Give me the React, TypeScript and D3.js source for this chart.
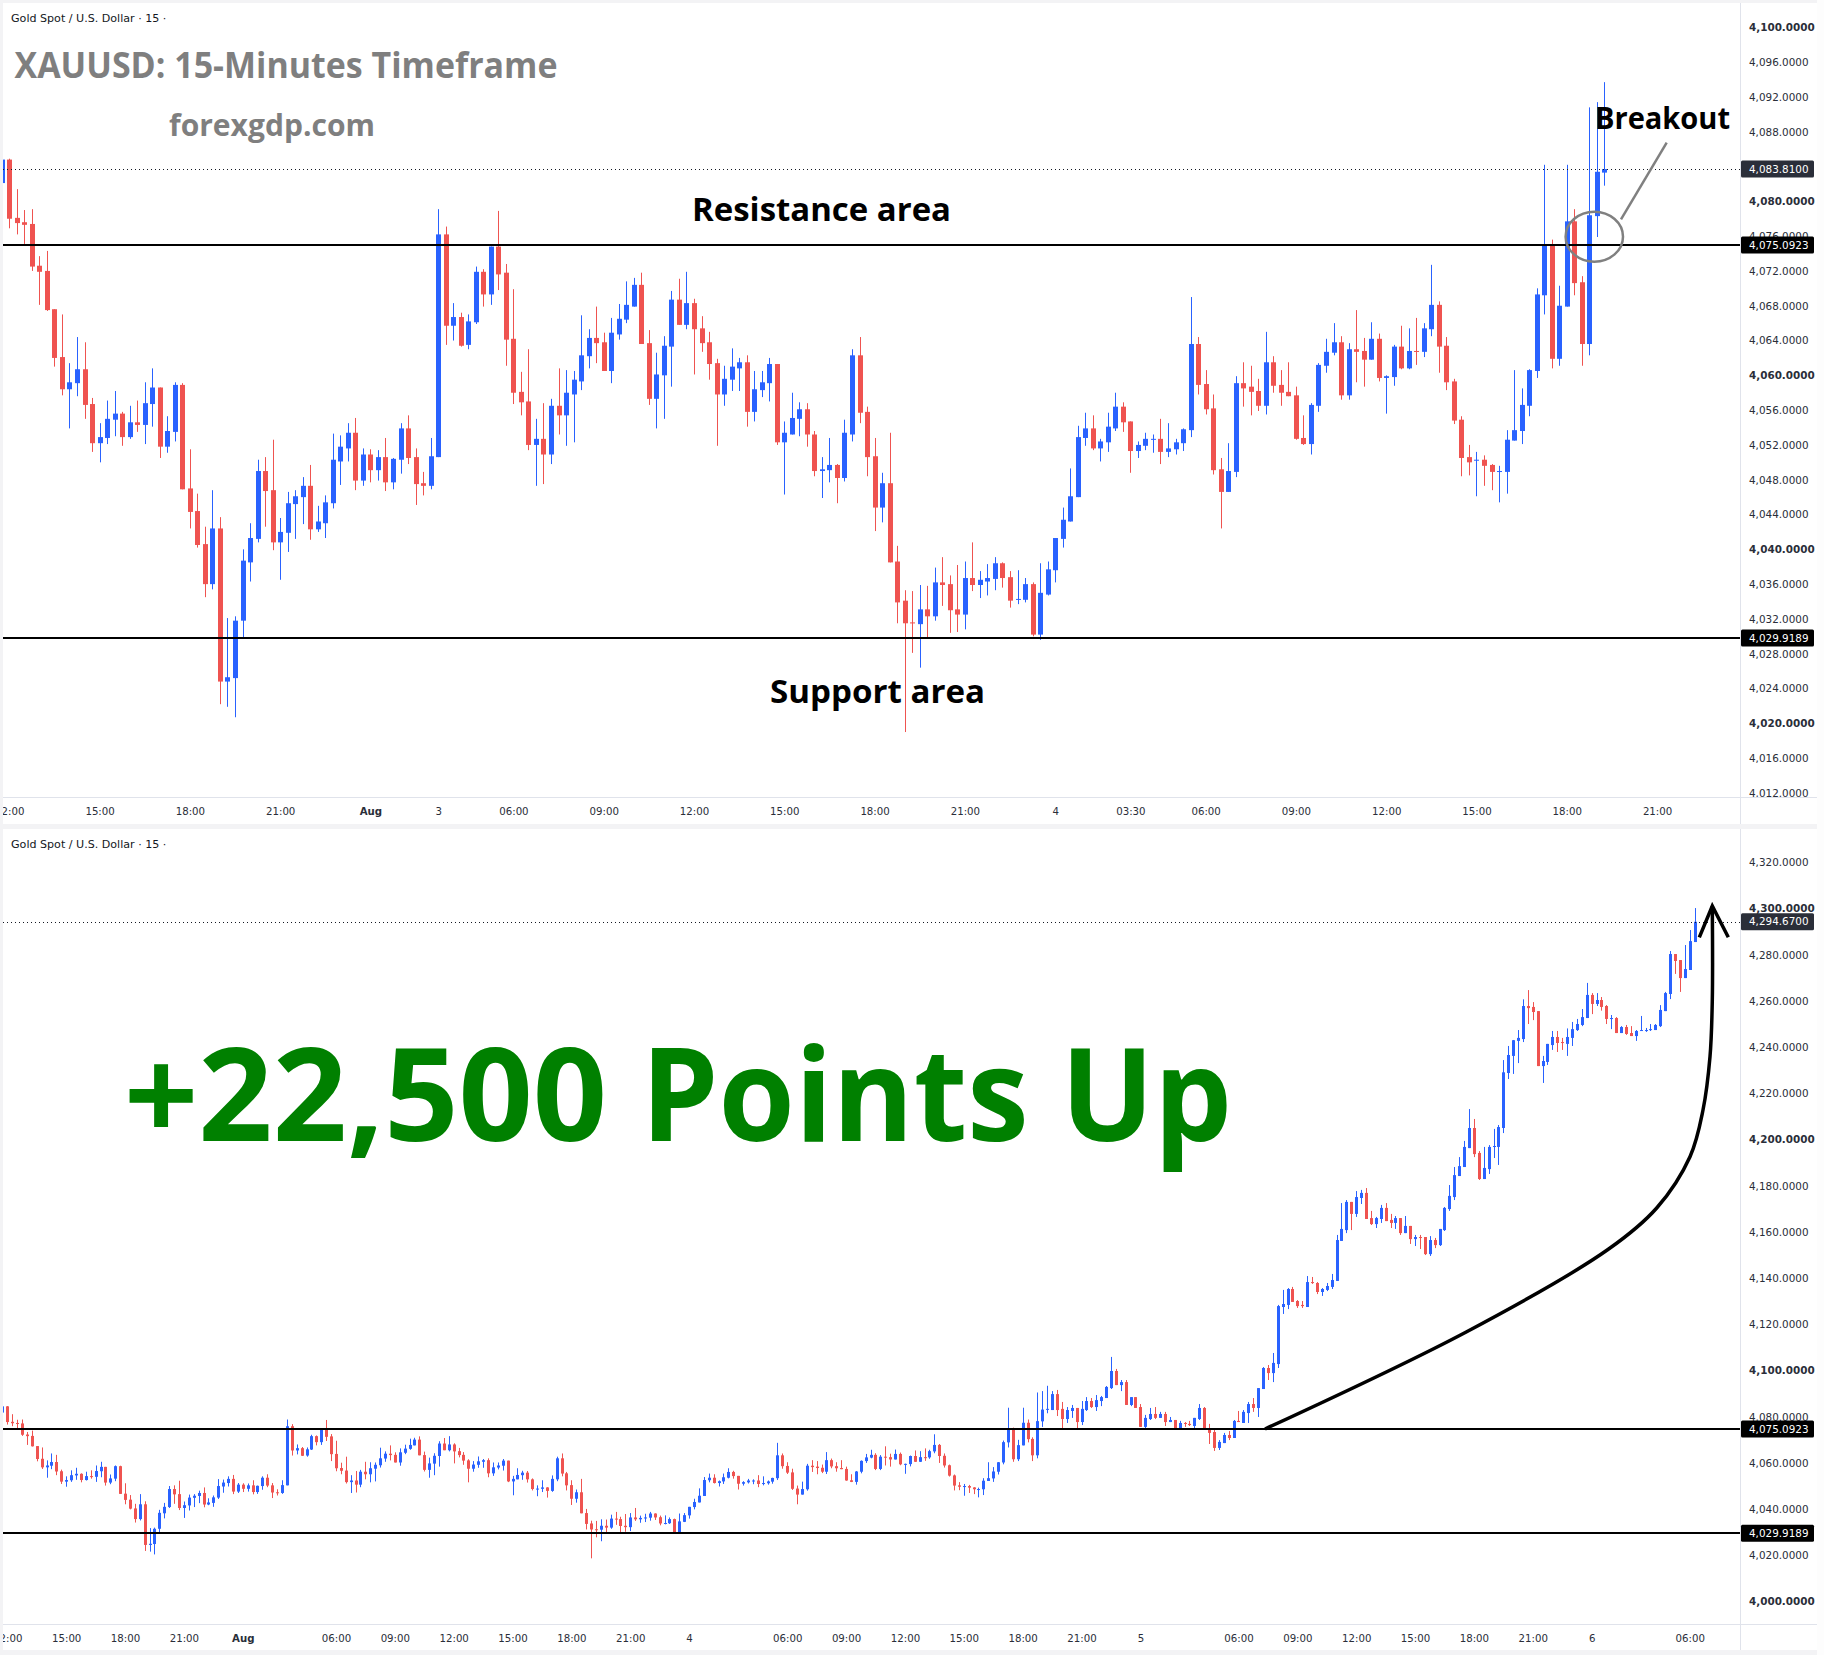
import * as d3 from 'd3';
import { useEffect, useRef } from 'react';

// candles shared by both panels, the first one is cut by the left edge
const opens = [4082.2,
  4084.9,4078.2,4077.7,4077.5,4072.7,4072.1,4067.7,4062.2,4058.5,4059.2,
  4060.8,4056.8,4052.3,4052.9,4055.0,4055.7,4053.0,4054.7,4054.4,4056.8,
  4058.7,4051.9,4053.6,4059.0,4047.1,4044.5,4040.7,4036.1,4042.5,4024.9,
  4025.3,4031.9,4038.6,4041.3,4049.1,4046.9,4040.9,4042.0,4045.3,4046.1,
  4047.4,4042.4,4043.1,4045.4,4050.2,4051.7,4053.5,4048.0,4051.0,4049.2,
  4050.7,4047.8,4050.4,4054.0,4050.7,4047.7,4047.4,4050.7,4076.3,4065.8,
  4066.8,4063.6,4066.2,4072.0,4069.4,4074.9,4071.9,4064.3,4058.2,4057.1,
  4052.1,4052.8,4051.0,4056.6,4055.5,4057.9,4059.4,4062.3,4064.4,4063.9,
  4060.6,4064.8,4066.5,4068.0,4070.5,4063.8,4057.4,4060.1,4063.4,4068.8,
  4065.9,4068.4,4065.5,4063.9,4061.5,4057.9,4059.6,4060.9,4061.6,4055.9,
  4058.4,4059.2,4061.4,4052.4,4053.3,4055.1,4056.2,4053.3,4049.1,4049.2,
  4049.8,4048.3,4053.3,4062.4,4055.9,4050.8,4044.9,4047.7,4038.7,4034.2,
  4031.7,4031.5,4033.2,4032.4,4036.3,4036.1,4033.2,4032.6,4036.8,4036.0,
  4036.4,4036.7,4038.5,4036.9,4034.3,4034.3,4036.1,4030.3,4034.9,4037.7,
  4041.3,4043.3,4046.1,4052.9,4054.0,4051.7,4052.4,4054.0,4056.5,4054.8,
  4051.4,4052.0,4052.7,4052.8,4051.3,4051.6,4052.3,4053.8,4063.7,4059.1,
  4056.3,4049.3,4046.7,4049.0,4059.2,4058.8,4058.3,4056.6,4061.6,4059.0,
  4058.2,4057.8,4052.9,4052.2,4056.6,4061.2,4062.7,4063.9,4057.8,4063.1,
  4062.9,4061.9,4064.3,4059.8,4059.9,4063.4,4060.9,4062.9,4062.8,4065.4,
  4068.2,4063.5,4059.4,4055.0,4050.7,4050.3,4050.4,4049.8,4049.0,4049.0,
  4052.6,4053.7,4056.6,4060.6,4069.3,4075.1,4062.0,4068.0,4077.8,4070.8,
  4063.7,4078.4,4083.4];
const highs = [4084.9,
  4085.0,4081.5,4079.1,4079.2,4073.8,4074.4,4067.7,4067.1,4061.5,4064.5,
  4063.9,4057.5,4054.6,4057.2,4058.3,4055.9,4056.6,4057.2,4059.3,4060.9,
  4058.7,4055.4,4059.3,4059.2,4051.6,4046.5,4042.7,4046.9,4043.8,4032.2,
  4032.4,4040.1,4043.1,4050.4,4050.7,4052.7,4043.7,4046.7,4046.9,4048.4,
  4049.8,4045.1,4046.3,4053.4,4053.2,4054.6,4055.2,4051.7,4051.6,4051.5,
  4052.9,4050.6,4054.6,4055.5,4051.7,4049.0,4052.9,4079.2,4077.2,4068.4,
  4067.3,4067.1,4072.6,4072.3,4074.9,4079.0,4072.9,4070.0,4060.5,4063.1,
  4055.1,4056.9,4057.4,4060.9,4060.7,4060.6,4067.0,4065.4,4068.0,4065.0,
  4066.7,4068.3,4070.9,4071.3,4071.9,4065.3,4062.7,4064.6,4069.8,4071.2,
  4072.0,4068.9,4066.9,4065.1,4062.0,4061.2,4063.2,4062.1,4062.4,4060.6,
  4060.6,4062.1,4061.4,4054.8,4058.1,4057.0,4056.9,4053.7,4050.7,4052.9,
  4049.9,4055.0,4063.1,4064.5,4056.5,4052.9,4048.9,4053.5,4040.5,4035.4,
  4035.3,4036.0,4035.9,4038.0,4039.2,4037.1,4038.3,4038.7,4040.9,4037.6,
  4038.4,4039.2,4038.6,4037.6,4037.7,4036.8,4036.3,4038.5,4038.7,4041.4,
  4044.9,4049.4,4054.3,4055.8,4055.5,4052.8,4055.8,4058.1,4057.0,4054.8,
  4052.5,4053.5,4053.3,4055.1,4054.6,4052.8,4054.0,4069.1,4064.5,4060.7,
  4057.9,4050.6,4052.3,4060.0,4061.6,4061.2,4059.7,4065.1,4062.3,4060.7,
  4061.6,4058.8,4055.5,4056.9,4061.5,4064.3,4066.1,4064.6,4063.8,4067.6,
  4064.4,4066.2,4064.9,4060.1,4063.6,4065.8,4065.5,4066.7,4066.1,4072.8,
  4068.6,4064.5,4059.7,4055.4,4052.1,4051.3,4050.9,4049.9,4049.7,4053.8,
  4060.7,4058.6,4060.8,4070.1,4084.3,4075.7,4070.4,4084.3,4079.2,4071.5,
  4090.9,4091.5,4093.8];
const lows = [4082.2,
  4077.0,4076.3,4075.2,4072.1,4068.2,4067.5,4061.1,4057.8,4054.0,4057.7,
  4055.1,4051.3,4050.1,4052.2,4053.1,4052.0,4052.8,4053.6,4052.2,4054.2,
  4050.6,4051.2,4052.5,4047.0,4042.5,4040.3,4034.6,4035.5,4022.3,4022.0,
  4020.8,4029.8,4036.4,4040.9,4042.7,4040.0,4036.6,4039.8,4041.3,4043.0,
  4041.2,4042.1,4041.4,4044.8,4047.5,4050.2,4046.9,4047.4,4047.8,4048.0,
  4046.8,4047.0,4048.8,4049.9,4045.2,4046.3,4047.0,4050.7,4063.6,4064.1,
  4063.4,4063.1,4066.0,4068.0,4068.2,4069.9,4061.2,4056.8,4055.5,4051.5,
  4047.4,4047.6,4049.9,4053.3,4052.0,4052.4,4058.4,4060.9,4061.5,4060.6,
  4059.2,4064.2,4066.1,4068.0,4063.7,4056.7,4054.0,4055.1,4058.8,4065.9,
  4065.4,4060.2,4062.8,4059.6,4052.0,4056.6,4058.3,4058.3,4054.2,4054.8,
  4057.6,4057.1,4052.1,4046.4,4053.3,4053.1,4051.9,4048.5,4046.0,4047.8,
  4045.4,4047.9,4052.5,4054.6,4048.5,4042.2,4043.2,4038.6,4031.6,4019.1,
  4028.2,4026.5,4029.8,4031.9,4033.6,4030.5,4030.6,4030.9,4035.3,4034.5,
  4034.8,4035.4,4035.7,4033.4,4033.8,4034.0,4030.1,4029.7,4034.8,4036.3,
  4040.3,4043.3,4046.1,4052.0,4051.5,4050.2,4051.3,4053.7,4053.6,4048.9,
  4050.6,4051.5,4051.2,4049.9,4050.7,4051.0,4051.4,4053.0,4057.9,4055.6,
  4048.7,4042.5,4046.7,4048.4,4056.5,4055.5,4056.0,4055.6,4058.1,4056.6,
  4057.7,4052.7,4052.1,4051.0,4055.9,4060.4,4062.4,4057.3,4057.3,4059.3,
  4058.8,4061.9,4059.4,4055.7,4058.9,4060.8,4060.8,4061.3,4062.2,4064.6,
  4060.4,4058.4,4054.5,4048.5,4048.6,4046.2,4047.4,4046.9,4045.5,4046.5,
  4052.6,4052.2,4055.4,4059.8,4067.1,4060.9,4061.2,4068.0,4069.3,4061.2,
  4062.4,4076.0,4081.9];
const closes = [4084.9,
  4078.1,4077.6,4077.4,4072.6,4072.0,4067.6,4062.1,4058.5,4059.3,4060.8,
  4056.7,4052.3,4053.0,4055.1,4055.7,4053.0,4054.7,4054.4,4056.9,4058.7,
  4051.9,4053.7,4059.0,4047.0,4044.4,4040.6,4036.1,4042.5,4024.9,4025.4,
  4031.9,4038.8,4041.4,4049.1,4046.8,4040.9,4042.1,4045.4,4046.2,4047.4,
  4042.4,4043.3,4045.5,4050.4,4051.9,4053.5,4048.0,4051.0,4049.2,4050.7,
  4047.8,4050.5,4054.0,4050.6,4047.6,4047.4,4050.8,4076.3,4065.8,4066.8,
  4063.5,4066.3,4072.0,4069.4,4074.9,4071.7,4064.2,4058.1,4057.0,4052.1,
  4052.8,4051.0,4056.6,4055.5,4058.1,4059.6,4062.4,4064.4,4063.8,4060.6,
  4065.0,4066.6,4068.2,4070.5,4063.7,4057.4,4060.2,4063.5,4068.8,4065.9,
  4068.4,4065.4,4063.8,4061.4,4057.9,4059.7,4061.1,4061.6,4055.9,4058.5,
  4059.3,4061.4,4052.4,4053.5,4055.2,4056.2,4053.3,4049.1,4049.3,4049.8,
  4048.3,4053.5,4062.4,4055.8,4050.7,4044.9,4047.7,4038.6,4034.0,4031.6,
  4031.6,4033.2,4032.4,4036.3,4036.0,4033.1,4032.6,4036.8,4036.0,4036.6,
  4036.8,4038.5,4036.8,4034.2,4034.4,4036.1,4030.3,4035.1,4037.8,4041.4,
  4043.5,4046.2,4053.0,4054.0,4051.7,4052.5,4054.2,4056.5,4054.7,4051.4,
  4052.1,4052.8,4052.8,4051.3,4051.7,4052.4,4053.9,4063.7,4059.0,4056.2,
  4049.2,4046.7,4049.1,4059.2,4058.6,4058.2,4056.6,4061.6,4058.9,4058.1,
  4057.7,4052.8,4052.2,4056.7,4061.3,4062.8,4063.9,4057.8,4063.1,4062.8,
  4061.9,4064.3,4059.8,4060.0,4063.4,4060.9,4062.9,4062.8,4065.5,4068.2,
  4063.4,4059.3,4054.9,4050.6,4050.1,4050.4,4049.7,4049.0,4049.1,4052.7,
  4053.8,4056.7,4060.7,4069.4,4075.1,4062.0,4068.1,4077.8,4070.7,4063.7,
  4078.5,4083.5,4083.81];

// candles that only the lower panel shows
const laterOpens = [
  4083.3,4090.2,4083.8,4079.4,4082.9,4084.2,4078.1,4083.3,4087.2,4084.6,
  4087.2,4088.5,4092.8,4100.2,4094.1,4095.4,4085.5,4088.9,4084.6,4076.0,
  4079.4,4081.6,4079.9,4081.6,4078.1,4079.0,4075.1,4077.7,4077.3,4076.4,
  4079.4,4084.2,4075.5,4073.8,4066.9,4069.0,4072.5,4071.2,4078.6,4077.7,
  4082.0,4085.9,4084.2,4092.4,4101.5,4099.3,4103.2,4127.9,4128.8,4135.7,
  4130.5,4128.8,4127.9,4138.7,4138.3,4134.4,4135.3,4136.6,4139.2,4156.5,
  4161.2,4173.4,4168.2,4175.1,4177.3,4166.4,4163.8,4166.0,4170.8,4165.6,
  4164.3,4166.4,4159.9,4163.0,4157.3,4158.2,4158.2,4150.8,4156.9,4154.7,
  4161.2,4170.3,4175.5,4184.6,4188.5,4196.7,4205.4,4194.6,4183.3,4187.6,
  4197.2,4197.2,4205.4,4229.2,4236.6,4243.1,4243.9,4258.2,4257.8,4256.0,
  4232.2,4234.0,4241.3,4244.8,4242.6,4241.8,4244.4,4247.8,4250.0,4253.0,
  4263.0,4259.1,4260.8,4258.2,4252.6,4253.0,4246.5,4249.1,4246.5,4245.2,
  4247.4,4247.4,4247.8,4247.8,4249.5,4256.0,4263.4,4280.7,4278.1,4270.3,
  4273.8,4285.9];
const laterHighs = [
  4091.5,4092.0,4086.8,4084.6,4085.5,4084.2,4087.2,4088.9,4088.5,4089.8,
  4089.4,4093.7,4106.3,4101.1,4096.3,4096.3,4088.9,4088.9,4085.9,4081.2,
  4084.2,4084.6,4082.5,4082.5,4080.3,4079.0,4078.6,4078.1,4078.6,4079.9,
  4085.9,4084.6,4077.3,4074.7,4070.3,4073.4,4074.2,4079.0,4082.9,4083.3,
  4086.8,4088.5,4092.8,4101.9,4102.8,4108.0,4128.8,4135.3,4136.1,4136.6,
  4130.9,4130.5,4141.3,4140.9,4138.7,4136.1,4138.3,4142.2,4159.1,4172.9,
  4174.2,4173.4,4178.1,4178.6,4179.4,4169.5,4166.9,4172.1,4172.9,4168.2,
  4167.3,4166.4,4167.3,4163.0,4159.1,4159.1,4158.2,4158.6,4157.8,4161.7,
  4171.2,4180.7,4188.5,4192.8,4199.8,4213.6,4209.3,4195.4,4197.2,4198.0,
  4205.0,4206.7,4234.8,4240.9,4243.5,4247.8,4261.1,4265.1,4259.9,4256.0,
  4236.6,4241.8,4247.4,4247.4,4244.4,4248.5,4251.3,4252.6,4256.9,4268.2,
  4263.8,4263.8,4262.1,4258.6,4254.3,4253.4,4249.5,4250.0,4249.5,4247.8,
  4253.9,4248.7,4250.4,4250.4,4258.6,4264.3,4282.0,4280.7,4278.1,4284.6,
  4291.1,4300.6];
const laterLows = [
  4083.3,4080.7,4074.7,4077.7,4079.9,4075.1,4076.8,4082.9,4084.2,4082.9,
  4085.0,4088.5,4092.4,4094.1,4091.5,4085.5,4085.0,4084.2,4076.0,4075.1,
  4079.0,4079.4,4079.9,4076.4,4078.1,4074.7,4075.1,4076.0,4076.4,4075.5,
  4079.0,4075.1,4068.6,4065.6,4066.0,4069.0,4070.3,4071.2,4078.1,4077.7,
  4077.7,4082.5,4080.3,4092.4,4096.3,4095.4,4101.5,4124.9,4127.0,4130.1,
  4127.5,4127.5,4127.9,4137.9,4133.5,4132.7,4134.8,4135.7,4139.2,4156.5,
  4159.9,4161.2,4166.9,4172.5,4166.0,4163.4,4162.1,4164.3,4165.1,4162.1,
  4161.7,4159.1,4159.9,4155.2,4154.3,4153.0,4150.4,4150.0,4153.4,4154.3,
  4160.8,4169.5,4174.2,4184.6,4188.5,4196.7,4192.8,4182.9,4183.3,4185.5,
  4192.4,4189.4,4203.2,4226.6,4228.8,4233.5,4242.6,4250.4,4252.1,4232.2,
  4224.9,4232.7,4239.2,4238.3,4239.2,4236.6,4240.9,4247.4,4249.5,4253.0,
  4254.7,4258.2,4256.2,4250.4,4248.2,4246.5,4246.5,4245.7,4245.2,4243.1,
  4247.4,4247.0,4247.4,4247.8,4249.1,4256.0,4261.2,4272.1,4264.3,4270.3,
  4273.8,4285.9];
const laterCloses = [
  4090.2,4083.3,4079.4,4083.3,4084.2,4078.1,4083.8,4087.2,4084.6,4087.6,
  4088.9,4093.3,4100.2,4094.1,4095.4,4085.5,4088.9,4084.2,4076.0,4079.9,
  4081.6,4079.9,4081.6,4078.1,4079.0,4075.1,4077.7,4077.3,4076.8,4079.9,
  4084.2,4075.1,4073.4,4066.9,4069.5,4072.5,4071.2,4078.6,4078.1,4082.5,
  4085.9,4084.2,4092.8,4101.5,4099.3,4103.7,4128.3,4129.2,4135.7,4130.1,
  4128.3,4128.3,4138.7,4138.3,4134.4,4135.7,4137.0,4139.6,4156.9,4161.7,
  4173.4,4168.2,4175.5,4177.3,4166.0,4163.8,4166.4,4170.8,4165.1,4164.3,
  4166.4,4159.9,4163.0,4157.3,4158.2,4157.8,4150.8,4156.9,4154.7,4161.7,
  4170.8,4176.0,4185.0,4188.9,4197.2,4205.4,4194.1,4183.3,4188.1,4197.2,
  4197.6,4205.8,4229.5,4237.0,4243.4,4244.4,4258.2,4257.3,4255.6,4232.2,
  4234.4,4241.8,4244.8,4242.2,4242.2,4244.8,4248.2,4250.4,4253.4,4263.0,
  4259.1,4260.8,4257.8,4252.6,4253.0,4246.5,4249.1,4246.1,4245.2,4247.4,
  4247.8,4247.8,4248.2,4250.0,4256.5,4263.8,4280.7,4277.7,4270.3,4274.2,
  4286.3,4294.67];

const resistance = 4075.0923;
const support = 4029.9189;
const topLast = 4083.81;
const bottomLast = 4294.67;

const topTimeLabels = ['12:00','15:00','18:00','21:00','Aug','3','06:00','09:00','12:00','15:00','18:00','21:00','4','03:30','06:00','09:00','12:00','15:00','18:00','21:00'];
const topTimeSlots = [1,13,25,37,49,58,68,80,92,104,116,128,140,150,160,172,184,196,208,220];
const bottomTimeLabels = ['12:00','15:00','18:00','21:00','Aug','06:00','09:00','12:00','15:00','18:00','21:00','4','06:00','09:00','12:00','15:00','18:00','21:00','5','06:00','09:00','12:00','15:00','18:00','21:00','6','06:00'];
const bottomTimeSlots = [1,13,25,37,49,68,80,92,104,116,128,140,160,172,184,196,208,220,232,252,264,276,288,300,312,324,344];

const UP = '#2962ff';
const DOWN = '#ef5350';
const GRID = '#e0e3eb';
const TICK_FONT = '"DejaVu Sans", sans-serif';
const NOTE_FONT = '"Open Sans", sans-serif';

type Candle = { i: number; o: number; h: number; l: number; c: number };

type PanelConfig = {
  id: string;
  candles: Candle[];
  x0: number;
  step: number;
  bodyWidth: number;
  slotValues: number[];
  slotLabels: string[];
  axisY: number;
  priceTop: number;
  pricesPerPx: number;
  priceTicks: number[];
  boldEvery: number;
  headerY: number;
  panelTop: number;
  panelBottom: number;
  lastPrice: number;
};

const toCandles = (o: number[], h: number[], l: number[], c: number[]): Candle[] =>
  o.map((v, i) => ({ i, o: v, h: h[i], l: l[i], c: c[i] }));

const sharedCandles = toCandles(opens, highs, lows, closes);
const allCandles = toCandles(
  opens.concat(laterOpens),
  highs.concat(laterHighs),
  lows.concat(laterLows),
  closes.concat(laterCloses),
);

const drawPanel = (svg: any, cfg: PanelConfig) => {
  const x = d3.scaleLinear().domain([0, 1]).range([cfg.x0, cfg.x0 + cfg.step]);
  const y = d3
    .scaleLinear()
    .domain([resistance, resistance - 100])
    .range([cfg.priceTop, cfg.priceTop + 100 * cfg.pricesPerPx]);

  svg
    .append('clipPath')
    .attr('id', `plot-${cfg.id}`)
    .append('rect')
    .attr('x', 3)
    .attr('y', cfg.panelTop)
    .attr('width', 1737)
    .attr('height', cfg.axisY - 16 - cfg.panelTop);
  svg
    .append('clipPath')
    .attr('id', `time-${cfg.id}`)
    .append('rect')
    .attr('x', 3)
    .attr('y', cfg.axisY - 16)
    .attr('width', 1737)
    .attr('height', 30);

  const plot = svg.append('g').attr('clip-path', `url(#plot-${cfg.id})`);
  const colour = (d: Candle) => (d.c >= d.o ? UP : DOWN);

  plot
    .selectAll('.wick')
    .data(cfg.candles)
    .join('line')
    .attr('class', 'wick')
    .attr('x1', (d: Candle) => Math.round(x(d.i)) + 0.5)
    .attr('x2', (d: Candle) => Math.round(x(d.i)) + 0.5)
    .attr('y1', (d: Candle) => y(d.h))
    .attr('y2', (d: Candle) => y(d.l))
    .attr('stroke', colour)
    .attr('stroke-width', 1);

  plot
    .selectAll('.body')
    .data(cfg.candles)
    .join('rect')
    .attr('class', 'body')
    .attr('x', (d: Candle) => Math.round(x(d.i)) + 0.5 - cfg.bodyWidth / 2)
    .attr('y', (d: Candle) => y(Math.max(d.o, d.c)))
    .attr('width', cfg.bodyWidth)
    .attr('height', (d: Candle) => Math.max(1, Math.abs(y(d.o) - y(d.c))))
    .attr('fill', colour);

  // last price dots, then the two drawn levels above the candles
  plot
    .append('line')
    .attr('x1', 3)
    .attr('x2', 1740)
    .attr('y1', Math.round(y(cfg.lastPrice)) + 0.5)
    .attr('y2', Math.round(y(cfg.lastPrice)) + 0.5)
    .attr('stroke', '#131722')
    .attr('stroke-width', 1)
    .attr('stroke-dasharray', '1 3');
  [resistance, support].forEach((level) => {
    plot
      .append('line')
      .attr('x1', 3)
      .attr('x2', 1740)
      .attr('y1', Math.round(y(level)))
      .attr('y2', Math.round(y(level)))
      .attr('stroke', '#000')
      .attr('stroke-width', 2);
  });

  const priceAxis = svg
    .append('g')
    .attr('transform', 'translate(1749,-0.8)')
    .call(
      d3
        .axisRight(y)
        .tickValues(cfg.priceTicks)
        .tickFormat(d3.format(',.4f') as any)
        .tickSize(0)
        .tickPadding(0),
    );
  priceAxis.select('.domain').remove();
  priceAxis
    .selectAll('text')
    .attr('font-family', TICK_FONT)
    .attr('font-size', 10.4)
    .attr('fill', '#2a2e39')
    .attr('font-weight', (d: number) => (d % cfg.boldEvery === 0 ? 'bold' : 'normal'));

  const timeAxis = svg
    .append('g')
    .attr('clip-path', `url(#time-${cfg.id})`)
    .append('g')
    .attr('transform', `translate(0,${cfg.axisY - 2})`)
    .call(
      d3
        .axisBottom(x)
        .tickValues(cfg.slotValues)
        .tickFormat((_d: any, i: number) => cfg.slotLabels[i])
        .tickSize(0)
        .tickPadding(0),
    );
  timeAxis.select('.domain').remove();
  timeAxis
    .selectAll('text')
    .attr('y', 0)
    .attr('dy', '0.35em')
    .attr('font-family', TICK_FONT)
    .attr('font-size', 10.2)
    .attr('fill', '#2a2e39')
    .attr('font-weight', (_d: number, i: number) =>
      cfg.slotLabels[i] === 'Aug' ? 'bold' : 'normal',
    );

  // panel frame
  svg
    .append('line')
    .attr('x1', 1740.5)
    .attr('x2', 1740.5)
    .attr('y1', cfg.panelTop)
    .attr('y2', cfg.panelBottom)
    .attr('stroke', GRID);
  svg
    .append('line')
    .attr('x1', 3)
    .attr('x2', 1817)
    .attr('y1', cfg.axisY - 15.5)
    .attr('y2', cfg.axisY - 15.5)
    .attr('stroke', GRID);

  svg
    .append('text')
    .attr('x', 11)
    .attr('y', cfg.headerY)
    .attr('font-family', TICK_FONT)
    .attr('font-size', 11.1)
    .attr('fill', '#131722')
    .text('Gold Spot / U.S. Dollar · 15 ·');

  const priceTags = [
    { v: resistance, fill: '#000' },
    { v: support, fill: '#000' },
    { v: cfg.lastPrice, fill: '#2a2e39' },
  ];
  priceTags.forEach((tag) => {
    svg
      .append('rect')
      .attr('x', 1741)
      .attr('y', y(tag.v) - 8.5)
      .attr('width', 73)
      .attr('height', 17)
      .attr('rx', 1.5)
      .attr('fill', tag.fill);
    svg
      .append('text')
      .attr('x', 1749)
      .attr('y', y(tag.v))
      .attr('dy', '0.35em')
      .attr('font-family', TICK_FONT)
      .attr('font-size', 10.4)
      .attr('fill', '#fff')
      .text(d3.format(',.4f')(tag.v));
  });
};

const addNote = (
  svg: any,
  text: string,
  px: number,
  py: number,
  size: number,
  span: number,
  fill: string,
) => {
  svg
    .append('text')
    .attr('x', px)
    .attr('y', py)
    .attr('font-family', NOTE_FONT)
    .attr('font-weight', 'bold')
    .attr('font-size', size)
    .attr('textLength', span)
    .attr('lengthAdjust', 'spacingAndGlyphs')
    .attr('fill', fill)
    .text(text);
};

export default function App() {
  const ref = useRef<SVGSVGElement | null>(null);

  useEffect(() => {
    const svg = d3.select(ref.current);
    svg.selectAll('*').remove();

    svg.append('rect').attr('width', 1824).attr('height', 1655).attr('fill', '#f3f3f5');
    svg.append('rect').attr('x', 3).attr('y', 3).attr('width', 1814).attr('height', 821).attr('fill', '#fff');
    svg.append('rect').attr('x', 3).attr('y', 829).attr('width', 1814).attr('height', 821).attr('fill', '#fff');
    svg.append('rect').attr('x', 1817).attr('y', 0).attr('width', 7).attr('height', 1655).attr('fill', '#fdfdfd');

    drawPanel(svg, {
      id: 'top',
      candles: sharedCandles,
      x0: 1.77,
      step: 7.524,
      bodyWidth: 5,
      slotValues: topTimeSlots,
      slotLabels: topTimeLabels,
      axisY: 813,
      priceTop: 244.9,
      pricesPerPx: 8.7,
      priceTicks: d3.range(4012, 4101, 4),
      boldEvery: 20,
      headerY: 22,
      panelTop: 3,
      panelBottom: 824,
      lastPrice: topLast,
    });
    drawPanel(svg, {
      id: 'bottom',
      candles: allCandles,
      x0: 2.4,
      step: 4.905,
      bodyWidth: 3,
      slotValues: bottomTimeSlots,
      slotLabels: bottomTimeLabels,
      axisY: 1640,
      priceTop: 1429,
      pricesPerPx: 2.31,
      priceTicks: d3.range(4000, 4321, 20),
      boldEvery: 100,
      headerY: 848,
      panelTop: 829,
      panelBottom: 1650,
      lastPrice: bottomLast,
    });

    addNote(svg, 'XAUUSD: 15-Minutes Timeframe', 14.5, 78, 36, 543, '#7f7f7f');
    addNote(svg, 'forexgdp.com', 169, 136, 31, 206, '#7f7f7f');
    addNote(svg, 'Resistance area', 692, 221, 33, 259, '#000');
    addNote(svg, 'Support area', 770, 703, 33, 215, '#000');
    addNote(svg, 'Breakout', 1595, 129, 31, 135, '#000');

    // the digits run wider than the words in this headline
    const headline = svg
      .append('text')
      .attr('y', 1141)
      .attr('font-family', NOTE_FONT)
      .attr('font-weight', 'bold')
      .attr('font-size', 130)
      .attr('fill', '#008000');
    headline
      .append('tspan')
      .attr('x', 124)
      .attr('textLength', 517)
      .attr('lengthAdjust', 'spacingAndGlyphs')
      .text('+22,500 ');
    headline
      .append('tspan')
      .attr('x', 641)
      .attr('textLength', 591)
      .attr('lengthAdjust', 'spacingAndGlyphs')
      .text('Points Up');

    // breakout marker
    svg
      .append('ellipse')
      .attr('cx', 1594.3)
      .attr('cy', 236.7)
      .attr('rx', 28.7)
      .attr('ry', 25)
      .attr('fill', 'none')
      .attr('stroke', '#808080')
      .attr('stroke-width', 2.5);
    svg
      .append('line')
      .attr('x1', 1666.7)
      .attr('y1', 142.7)
      .attr('x2', 1621)
      .attr('y2', 219.3)
      .attr('stroke', '#808080')
      .attr('stroke-width', 2.5);

    // hand drawn arrow of the lower panel
    const arrow = d3
      .line<[number, number]>()
      .x((d) => d[0])
      .y((d) => d[1])
      .curve(d3.curveCatmullRom.alpha(0.5));
    svg
      .append('path')
      .attr(
        'd',
        arrow([
          [1265, 1429],
          [1466.7, 1331.7],
          [1608.3, 1249.3],
          [1656.7, 1208],
          [1690, 1156.7],
          [1703, 1110],
          [1710, 1056.7],
          [1712.3, 1000],
          [1712.3, 906],
        ]),
      )
      .attr('fill', 'none')
      .attr('stroke', '#000')
      .attr('stroke-width', 3.5);
    svg
      .append('path')
      .attr('d', d3.line()([[1699.3, 937.3], [1712.3, 906], [1728.3, 937.3]]))
      .attr('fill', 'none')
      .attr('stroke', '#000')
      .attr('stroke-width', 3.5);
  }, []);

  return (
    <svg
      ref={ref}
      width={1824}
      height={1655}
      style={{ position: 'absolute', left: 0, top: 0 }}
    />
  );
}
